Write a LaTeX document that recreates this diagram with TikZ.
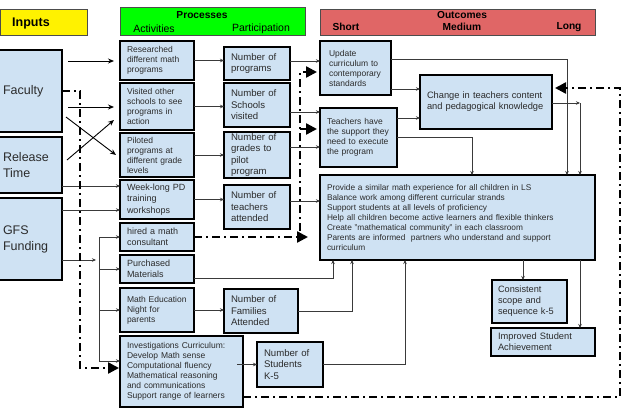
\documentclass[tikz,border=0pt]{standalone}
\usepackage{fontspec}
\setmainfont{Liberation Sans}
\usetikzlibrary{arrows.meta}
\definecolor{boxblue}{HTML}{CFE2F3}
\definecolor{hyellow}{HTML}{FFF200}
\definecolor{hgreen}{HTML}{00FF00}
\definecolor{hred}{HTML}{E06666}
\definecolor{linegray}{HTML}{3A3A3A}
\definecolor{txtgray}{HTML}{2B2B2B}
\begin{document}
\begin{tikzpicture}[x=1pt,y=-1pt,
 bx/.style={draw=black, line width=1.6pt, fill=boxblue, anchor=north west, outer sep=0pt,
   inner xsep=7pt, inner ysep=0pt, align=left, text=txtgray, font=\fontsize{8.5}{10}\selectfont},
 nbx/.style={bx, font=\fontsize{9.6}{11.5}\selectfont},
 mbx/.style={bx, font=\fontsize{9}{11.5}\selectfont},
 ibx/.style={bx, inner xsep=5pt, font=\fontsize{12.5}{16}\selectfont},
 hdr/.style={draw=black!70, line width=0.6pt, anchor=north west, outer sep=0pt, inner sep=0pt},
 htxt/.style={inner sep=0pt, font=\fontsize{10.5}{12}\selectfont},
 hbold/.style={inner sep=0pt, font=\bfseries\fontsize{10.2}{12}\selectfont},
 conn/.style={draw=linegray, line width=0.7pt, -{Stealth[length=4pt,width=3.5pt]}},
 plain/.style={draw=linegray, line width=0.7pt},
 barr/.style={draw=black, line width=0.9pt, -{Stealth[length=6pt,width=5pt]}},
 dd/.style={draw=black, line width=2.4pt, dash pattern=on 8pt off 4pt on 2pt off 4pt},
 dda/.style={dd, -{Triangle[length=11pt,width=11pt]}, shorten >=1pt},
]
\useasboundingbox (0,0) rectangle (624,410);
\fill[white] (0,0) rectangle (624,410);

% ---------- headers
\node[hdr, fill=hyellow, minimum width=87pt, minimum height=26pt] (hin) at (0,9) {};
\node[anchor=west, inner sep=0pt, font=\bfseries\fontsize{12.5}{14}\selectfont] (tin) at (12,23) {Inputs};
\node[hdr, fill=hgreen, minimum width=185pt, minimum height=28pt] (hpr) at (120,7) {};
\node[hbold] (tpr) at (202,15) {Processes};
\node[htxt] (tact) at (154,29) {Activities};
\node[htxt] (tpar) at (261,29) {Participation};
\node[hdr, fill=hred, minimum width=275pt, minimum height=26pt] (hout) at (320,9) {};
\node[hbold] (tout) at (462,15) {Outcomes};
\node[hbold] (tsh) at (346,27) {Short};
\node[hbold] (tme) at (462,27) {Medium};
\node[hbold] (tlo) at (569,27) {Long};

% ---------- inputs
\node[ibx, minimum width=64pt, text width=54pt, minimum height=82pt] (fac) at (-2,50) {Faculty};
\node[ibx, minimum width=64pt, text width=54pt, minimum height=56pt] (rt) at (-2,137) {Release\\Time};
\node[ibx, minimum width=64pt, text width=54pt, minimum height=82pt] (gfs) at (-2,198) {GFS\\Funding};

% ---------- activities
\node[bx, minimum width=74pt, text width=60pt, minimum height=39pt] (res) at (120,41) {Researched\\different math\\programs};
\node[bx, minimum width=74pt, text width=60pt, minimum height=47pt] (vis) at (120,83) {Visited other\\schools to see\\programs in\\action};
\node[bx, minimum width=74pt, text width=60pt, minimum height=44pt] (pil) at (120,133) {Piloted\\programs at\\different grade\\levels};
\node[mbx, minimum width=74pt, text width=60pt, minimum height=39pt] (wk) at (120,180) {Week-long PD\\training\\workshops};
\node[mbx, minimum width=74pt, text width=60pt, minimum height=28pt] (hir) at (120,223) {hired a math\\consultant};
\node[mbx, minimum width=74pt, text width=60pt, minimum height=28pt] (pur) at (120,255) {Purchased\\Materials};
\node[bx, minimum width=74pt, text width=60pt, minimum height=44pt] (men) at (120,288) {Math Education\\Night for\\parents};
\node[bx, minimum width=123pt, text width=109pt, minimum height=71pt] (inv) at (120,336) {Investigations Curriculum:\\Develop Math sense\\Computational fluency\\Mathematical reasoning\\and communications\\Support range of learners};

% ---------- participation
\node[nbx, minimum width=66pt, text width=52pt, minimum height=33pt] (npr) at (224,47) {Number of\\programs};
\node[nbx, minimum width=66pt, text width=52pt, minimum height=44pt] (nsc) at (224,83) {Number of\\Schools\\visited};
\node[nbx, minimum width=66pt, text width=52pt, minimum height=46pt] (ngr) at (224,132) {Number of\\grades to\\pilot\\program};
\node[nbx, minimum width=66pt, text width=52pt, minimum height=44pt] (nte) at (224,185) {Number of\\teachers\\attended};
\node[nbx, minimum width=74pt, text width=60pt, minimum height=44pt] (nfa) at (224,289) {Number of\\Families\\Attended};
\node[nbx, minimum width=66pt, text width=52pt, minimum height=45pt] (nst) at (257,342) {Number of\\Students\\K-5};

% ---------- outcomes
\node[bx, inner xsep=9pt, minimum width=71pt, text width=53pt, minimum height=54pt] (upd) at (320,41) {Update\\curriculum to\\contemporary\\standards};
\node[bx, minimum width=77pt, text width=63pt, minimum height=59pt] (tea) at (320,108) {Teachers have\\the support they\\need to execute\\the program};
\node[bx, font=\fontsize{9.3}{11}\selectfont, minimum width=132pt, text width=118pt, minimum height=54pt] (chg) at (420,75) {Change in teachers content\\and pedagogical knowledge};
\node[bx, font=\fontsize{8.3}{10}\selectfont, minimum width=275pt, text width=261pt, minimum height=85pt] (big) at (320,175) {Provide a similar math experience for all children in LS\\Balance work among different curricular strands\\Support students at all levels of proficiency\\Help all children become active learners and flexible thinkers\\Create "mathematical community" in each classroom\\Parents are informed\ \ partners who understand and support\\curriculum};
\node[bx, font=\fontsize{9.2}{11}\selectfont, inner xsep=6pt, minimum width=75pt, text width=63pt, minimum height=43pt] (con) at (492,280) {Consistent\\scope and\\sequence k-5};
\node[bx, font=\fontsize{9.3}{11}\selectfont, minimum width=104pt, text width=90pt, minimum height=28pt] (imp) at (491,328) {Improved Student\\Achievement};

% ---------- free arrows from inputs
\coordinate (l1s) at (68,61);  \coordinate (l1e) at (114,61);
\coordinate (l2s) at (68,107); \coordinate (l2e) at (114,107);
\coordinate (l3s) at (66,117); \coordinate (l3e) at (116,155);
\coordinate (l4s) at (67,160); \coordinate (l4e) at (114,120);
\draw[barr] (l1s) -- (l1e);
\draw[barr] (l2s) -- (l2e);
\draw[barr] (l3s) -- (l3e);
\draw[barr] (l4s) -- (l4e);

% ---------- inputs to activities
\draw[conn] (rt.east |- 0,186) -- (wk.west |- 0,186);
\draw[conn] (gfs.east |- 0,210) -- (wk.west |- 0,210);
\coordinate (gt) at (96,260);
\draw[conn] (gfs.east |- gt) -- (gt);
\coordinate (bt) at (99,237);
\coordinate (bb) at (99,361);
\draw[plain] (bt) -- (bb);
\draw[conn] (bt) -- (hir.west);
\draw[conn] (bt |- pur.west) -- (pur.west);
\draw[conn] (bt |- men.west) -- (men.west);
\draw[conn] (bb) -- (inv.west |- bb);

% ---------- activities to participation
\draw[conn] (res.east) -- (res.east -| npr.west);
\draw[conn] (vis.east) -- (vis.east -| nsc.west);
\draw[conn] (pil.east) -- (pil.east -| ngr.west);
\draw[conn] (wk.east) -- (wk.east -| nte.west);
\draw[conn] (men.east) -- (men.east -| nfa.west);
\draw[conn] ([xshift=-6pt]inv.east |- nst.west) -- (nst.west);

% ---------- participation to outcomes
\draw[conn] (npr.east |- 0,61) -- (upd.west |- 0,61);
\draw[conn] (nsc.east |- 0,112) -- (tea.west |- 0,112);
\draw[conn] (ngr.east |- 0,147) -- (tea.west |- 0,147);
\draw[conn] (nte.east |- 0,201) -- (big.west |- 0,201);
\draw[conn] (upd.east |- 0,89) -- (chg.west |- 0,89);
\draw[conn] (tea.east |- 0,118) -- (chg.west |- 0,118);
\draw[conn] (upd.east |- 0,59) -| (567,0 |- big.north);
\coordinate (cr) at (580,103);
\draw[conn] (chg.east |- cr) -- (cr);
\draw[conn] (cr) -- (cr |- big.north);
\draw[conn] (tea.east |- 0,137) -| (472,0 |- big.north);
\draw[conn] (pur.east |- 0,278) -| (333,0 |- big.south);
\draw[conn] (nfa.east) -| (352,0 |- big.south);
\draw[conn] (nst.east) -| (405,0 |- big.south);
\draw[conn] (523,0 |- big.south) -- (523,0 |- con.north);
\draw[conn] (580,0 |- big.south) -- (580,0 |- imp.north);

% ---------- dash-dot feedback lines
\coordinate (d1a) at (80,91);
\coordinate (d1b) at (80,368);
\draw[dda] (fac.east |- d1a) -- (d1a) -- (d1b) -- (inv.west |- d1b);
\coordinate (d2) at (309,237);
\draw[dda] (hir.east) -- (d2);
\coordinate (d3t) at (300,72);
\coordinate (d3m) at (300,129);
\coordinate (d3b) at (300,231);
\draw[dda] (d3b) -- (d3t) -- ([xshift=-2pt]upd.west |- d3t);
\draw[dda] (d3m) -- ([xshift=-2pt]tea.west |- d3m);
\coordinate (d4a) at (620,397);
\coordinate (d4b) at (620,88);
\draw[dda] (inv.east |- d4a) -- (d4a) -- (d4b) -- ([xshift=2pt]chg.east |- d4b);
\end{tikzpicture}
\end{document}
